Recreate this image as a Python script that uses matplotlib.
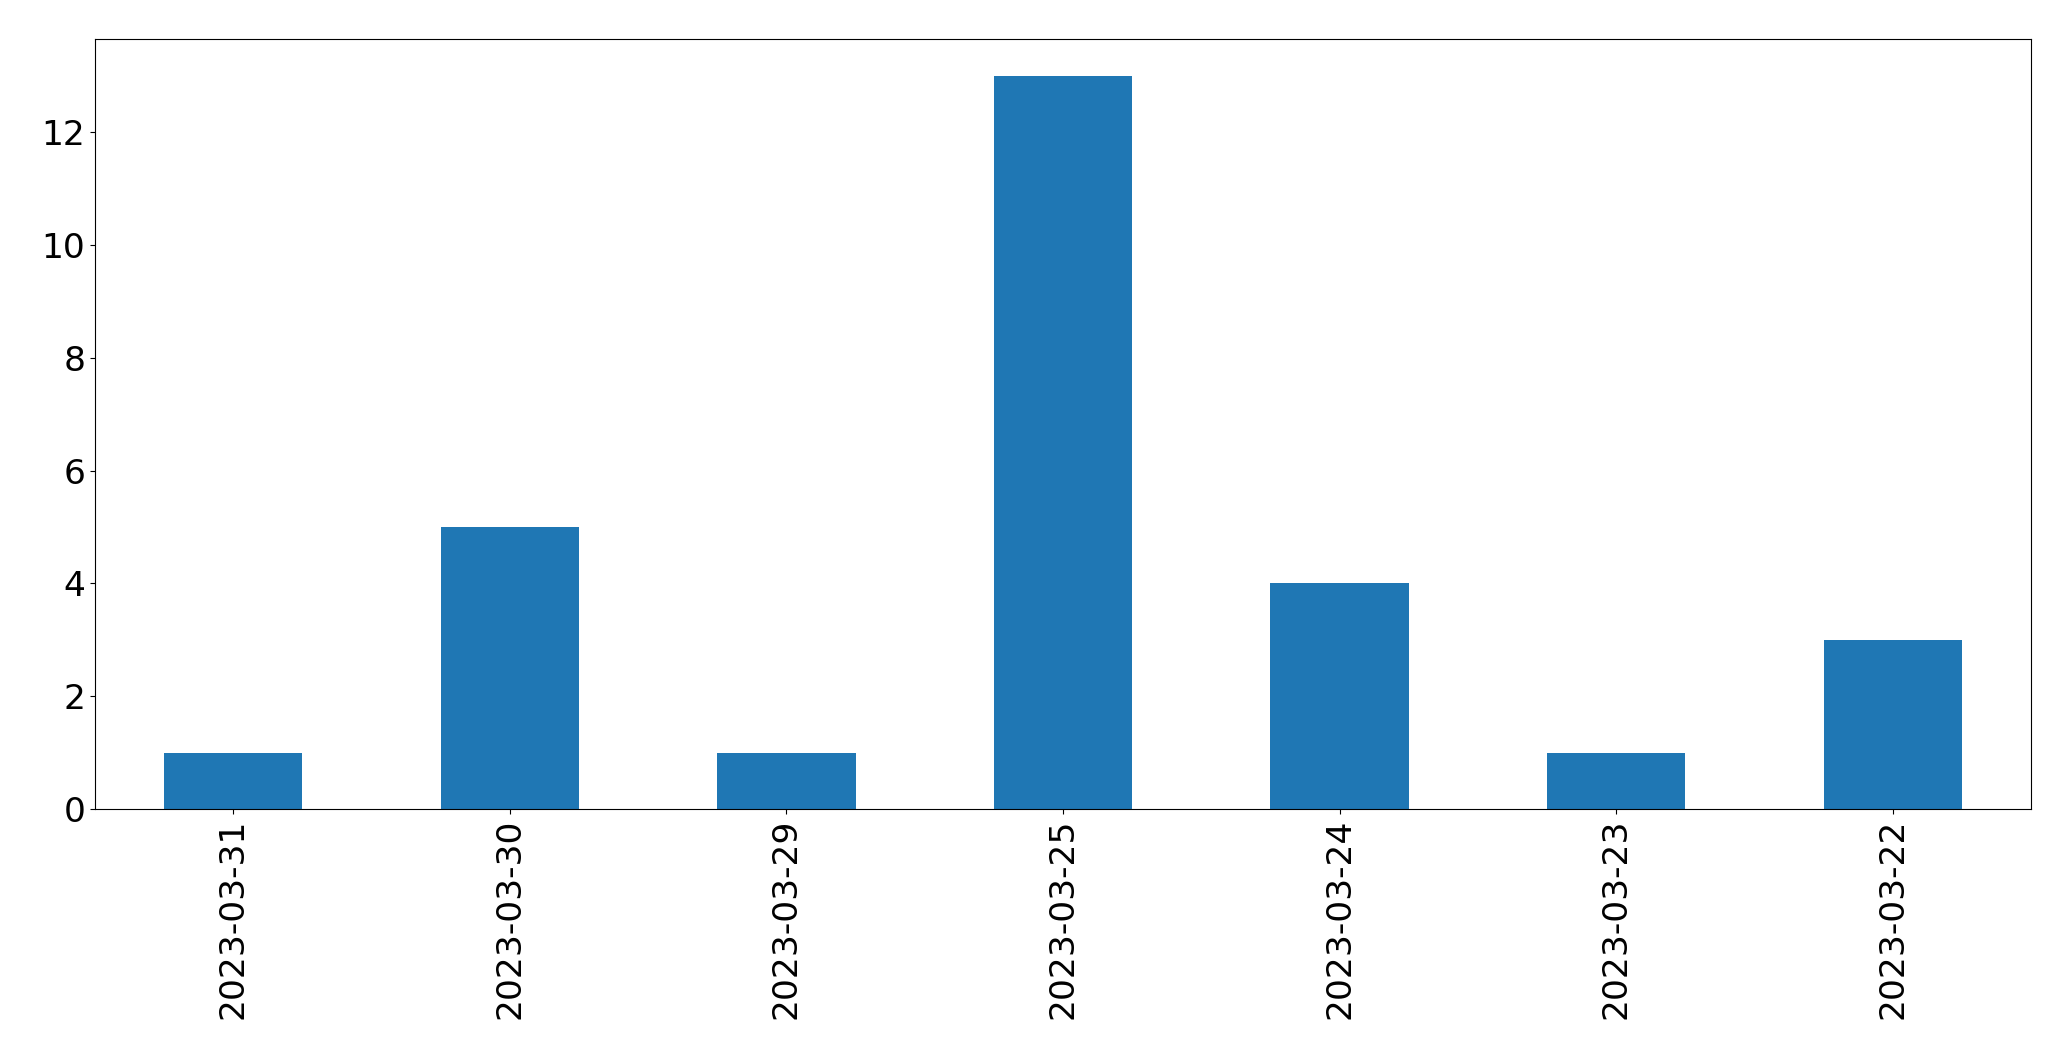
import matplotlib
matplotlib.use("Agg")
import matplotlib.pyplot as plt

# daily counts, in the order they appear on the chart
dates = ["2023-03-31", "2023-03-30", "2023-03-29", "2023-03-25",
         "2023-03-24", "2023-03-23", "2023-03-22"]
counts = [1, 5, 1, 13, 4, 1, 3]

fig = plt.figure(figsize=(20.71, 10.61), dpi=100)
ax = fig.add_axes([95 / 2071, 1 - 809 / 1061, 1936 / 2071, 770 / 1061])

x = range(len(dates))
ax.bar(x, counts, width=0.5, color="#1f77b4")
ax.set_xlim(-0.5, len(dates) - 0.5)
ax.set_ylim(0, max(counts) * 1.05)
ax.set_xticks(list(x))
ax.set_xticklabels(dates, rotation=90)
ax.tick_params(axis="both", labelsize=24.8)

fig.savefig("out.png", dpi=100)
